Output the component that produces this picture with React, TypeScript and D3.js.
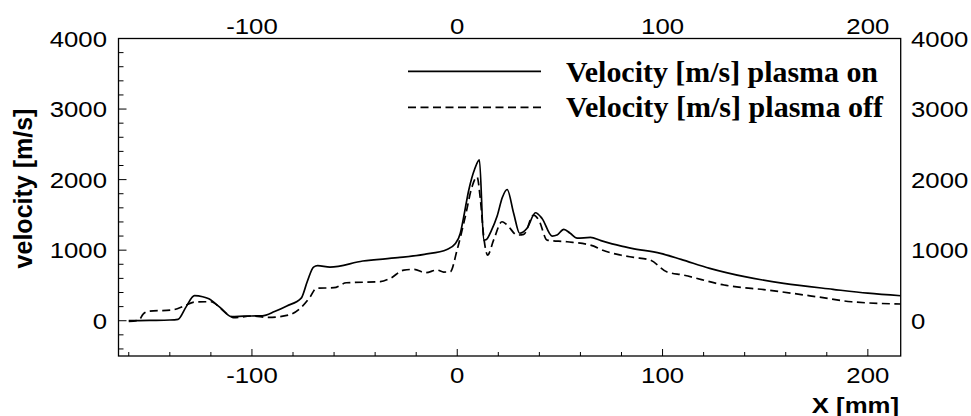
import React from "react";
import * as d3 from "d3";

const onX = [-160, -150, -140, -136, -132, -128, -124, -121, -116, -110, -104, -95, -89, -83, -76, -73, -70, -68, -62, -46, -29, -16, -5, -1, 1.5, 3, 5.6, 8.5, 10.8, 12.9, 14.2, 16.5, 19.4, 22, 24.3, 27.5, 30.4, 34, 38.1, 41.3, 46.2, 48.6, 51.9, 55, 58.4, 64.9, 70, 79.5, 85, 99, 109, 123, 140, 159, 183, 200, 216];
const onV = [0, 5, 10, 20, 200, 355, 340, 310, 200, 60, 65, 70, 130, 210, 320, 560, 760, 780, 760, 846, 893, 941, 1010, 1090, 1240, 1450, 1850, 2150, 2280, 1140, 1150, 1270, 1480, 1750, 1860, 1520, 1240, 1310, 1530, 1450, 1200, 1215, 1295, 1240, 1170, 1180, 1135, 1060, 1026, 955, 870, 742, 624, 530, 445, 390, 354];

const offX = [-160, -155, -153, -150, -139, -133, -128, -120, -115, -110.7, -109, -100, -92, -82, -76.5, -71.6, -68.7, -60, -54, -37.5, -32.6, -26, -21, -15.5, -9.8, -6.6, -3.4, -0.1, 3.9, 7.2, 9.6, 11.3, 12.9, 14.8, 17.7, 21.8, 24.3, 29.2, 32.4, 37.2, 39.7, 43.8, 53.5, 66.5, 69.8, 79.5, 86, 94, 102, 110, 130, 151, 175, 192, 216];
const offV = [-10, 10, 95, 135, 152, 208, 265, 269, 170, 67, 43, 67, 48, 81, 175, 340, 459, 468, 538, 553, 601, 718, 728, 680, 718, 690, 694, 1000, 1474, 1899, 2040, 1710, 1190, 931, 1143, 1403, 1356, 1214, 1224, 1498, 1427, 1143, 1119, 1058, 1012, 931, 898, 860, 694, 648, 506, 435, 340, 269, 237];

const xTicks = [-100, 0, 100, 200];
const yTicks = [0, 1000, 2000, 3000, 4000];
const legendLabels = ["Velocity [m/s] plasma on", "Velocity [m/s] plasma off"];

export default function App() {
  const W = 971, H = 416;
  const L = 118.5, R = 900.7, T = 38.5, B = 356;
  const x = d3.scaleLinear().domain([-165, 216]).range([L, R]);
  const y = d3.scaleLinear().domain([-500, 4000]).range([B, T]);
  const line = d3.line<[number, number]>().x(d => x(d[0])).y(d => y(d[1])).curve(d3.curveMonotoneX);
  const onPath = line(onX.map((v, i) => [v, onV[i]]) as [number, number][]) || "";
  const offPath = line(offX.map((v, i) => [v, offV[i]]) as [number, number][]) || "";
  const xMinor = d3.range(-160, 217, 20);
  const yMinor = d3.range(-400, 4001, 200);
  const sans = "'Liberation Sans', Arial, Helvetica, sans-serif";
  const serif = "'Liberation Serif', 'Times New Roman', serif";
  const fs = 23;
  const sx = 1.12;
  const T2 = (px: number, py: number) => `translate(${px},${py}) scale(${sx},1)`;
  return (
    <svg width={W} height={H} style={{ position: "absolute", left: 0, top: 0, background: "#fff" }}>
      <rect x={0} y={0} width={W} height={H} fill="#fff" />
      <defs>
        <clipPath id="plot"><rect x={L} y={T} width={R - L} height={B - T} /></clipPath>
      </defs>
      {xMinor.map(t => {
        const major = t % 100 === 0;
        return <line key={"xm" + t} x1={x(t)} x2={x(t)} y1={B} y2={B - (major ? 7 : 4)} stroke="#000" strokeWidth={1} />;
      })}
      {yMinor.map(t => {
        const major = t % 1000 === 0;
        return <line key={"ym" + t} x1={L} x2={L + (major ? 8 : 5)} y1={y(t)} y2={y(t)} stroke="#000" strokeWidth={1} />;
      })}
      <rect x={L} y={T} width={R - L} height={B - T} fill="none" stroke="#000" strokeWidth={1.3} />
      <g clipPath="url(#plot)">
        <path d={onPath} fill="none" stroke="#000" strokeWidth={1.7} />
        <path d={offPath} fill="none" stroke="#000" strokeWidth={1.7} strokeDasharray="8,4.5" />
      </g>
      {xTicks.map(t => (
        <text key={"xb" + t} transform={T2(x(t), 382.7)} textAnchor="middle" fontFamily={sans} fontSize={fs}>{t}</text>
      ))}
      {xTicks.map(t => (
        <text key={"xt" + t} transform={T2(x(t), 34.3)} textAnchor="middle" fontFamily={sans} fontSize={fs}>{t}</text>
      ))}
      {yTicks.map(t => (
        <text key={"yl" + t} transform={T2(107, y(t) + 8.3)} textAnchor="end" fontFamily={sans} fontSize={fs}>{t}</text>
      ))}
      {yTicks.map(t => (
        <text key={"yr" + t} transform={T2(911, y(t) + 8.3)} textAnchor="start" fontFamily={sans} fontSize={fs}>{t}</text>
      ))}
      <text transform={`translate(32,188.5) rotate(-90)`} textAnchor="middle" fontFamily={sans} fontWeight="bold" fontSize={25}>velocity [m/s]</text>
      <text transform={T2(899, 412.5)} textAnchor="end" fontFamily={sans} fontWeight="bold" fontSize={23}>X [mm]</text>
      <line x1={408} x2={541} y1={71.3} y2={71.3} stroke="#000" strokeWidth={1.7} />
      <line x1={408} x2={541} y1={107.3} y2={107.3} stroke="#000" strokeWidth={1.7} strokeDasharray="8,4.5" />
      <text x={566} y={81.7} fontFamily={serif} fontWeight="bold" fontSize={29.5} textLength={312} lengthAdjust="spacingAndGlyphs">{legendLabels[0]}</text>
      <text x={566} y={116.7} fontFamily={serif} fontWeight="bold" fontSize={29.5} textLength={317} lengthAdjust="spacingAndGlyphs">{legendLabels[1]}</text>
    </svg>
  );
}
